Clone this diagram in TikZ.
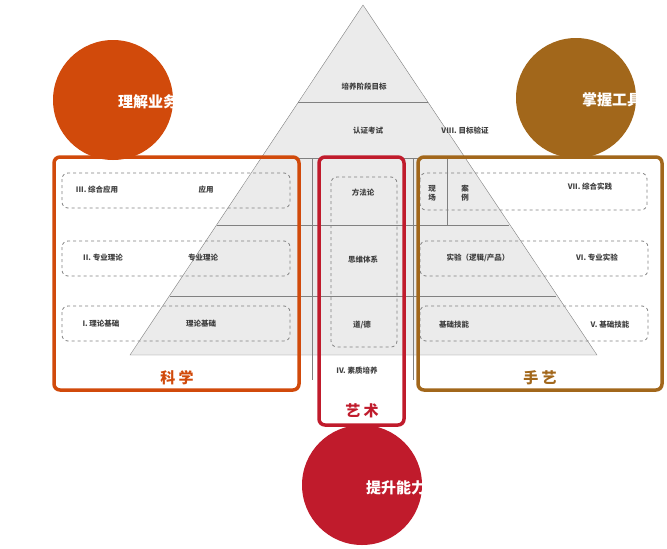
\documentclass[tikz,border=0pt]{standalone}
\usepackage{fontspec}
\setmainfont{Noto Sans CJK SC}
\definecolor{sciorange}{HTML}{D14A0B}
\definecolor{artred}{HTML}{C01B2C}
\definecolor{craftbrown}{HTML}{A2671B}
\tikzset{
    lbl/.style={font=\bfseries\fontsize{7.5}{9}\selectfont, text=black!75},
    dashbox/.style={draw=gray, dashed, rounded corners=6pt, thick},
    groupbox/.style={draw=#1, line width=3.5pt, rounded corners=6pt},
    ball/.style={circle, fill=#1, minimum size=120pt, inner sep=0pt},
    balltext/.style={font=\bfseries\fontsize{15}{17}\selectfont, text=white},
    grouptext/.style={font=\bfseries\fontsize{15}{17}\selectfont, text=#1},
}
\begin{document}
\begin{tikzpicture}[x=1pt, y=-1pt]
    \useasboundingbox (0, 0) rectangle (667, 549);
    \node[ball=sciorange] (sci) at (113, 100) {};
    \node[ball=craftbrown] (craft) at (576, 98) {};
    \node[ball=artred] (art) at (362, 485) {};

    \draw[gray, fill=black!8] (363, 5) -- (130, 355) -- (597, 355) -- cycle;
    \draw[gray] (298, 102) -- (428, 102);
    \draw[gray] (261, 158) -- (465, 158);
    \draw[gray] (217, 225) -- (509, 225);
    \draw[gray] (170, 296) -- (556, 296);
    \draw[gray] (312, 158) -- (312, 380);
    \draw[gray] (413, 158) -- (413, 380);
    \draw[gray] (447, 158) -- (447, 225);

    \draw[dashbox] (62, 173) rectangle (290, 208);
    \draw[dashbox] (62, 241) rectangle (290, 276);
    \draw[dashbox] (62, 306) rectangle (290, 341);
    \draw[dashbox] (420, 173) rectangle (647, 210);
    \draw[dashbox] (420, 241) rectangle (648, 276);
    \draw[dashbox] (420, 306) rectangle (648, 341);
    \draw[dashbox] (331, 177) rectangle (397, 347);

    \draw[groupbox=sciorange] (54, 157) rectangle (299, 390);
    \draw[groupbox=artred] (319, 157) rectangle (404, 425);
    \draw[groupbox=craftbrown] (418, 157) rectangle (662, 390);

    \node[balltext] (scit) at (148, 102) {理解业务};
    \node[balltext] (craftt) at (612, 100) {掌握工具};
    \node[balltext] (artt) at (396, 488) {提升能力};
    \node[grouptext=sciorange] (scig) at (177, 378) {科\ 学};
    \node[grouptext=artred] (artg) at (362, 411) {艺\ 术};
    \node[grouptext=craftbrown] (craftg) at (540, 378) {手\ 艺};

    \node[lbl] (goal) at (364, 87) {培养阶段目标};
    \node[lbl] (exam) at (368, 131) {认证考试};
    \node[lbl] (viii) at (465, 131) {VIII. 目标验证};
    \node[lbl] (iii) at (97, 190) {III. 综合应用};
    \node[lbl] (apply) at (206, 190) {应用};
    \node[lbl] (ii) at (103, 258) {II. 专业理论};
    \node[lbl] (theory) at (203, 258) {专业理论};
    \node[lbl] (i) at (101, 324) {I. 理论基础};
    \node[lbl] (basis) at (201, 324) {理论基础};
    \node[lbl] (method) at (363, 193) {方法论};
    \node[lbl] (thought) at (363, 260) {思维体系};
    \node[lbl] (moral) at (362, 325) {道/德};
    \node[lbl] (iv) at (357, 371) {IV. 素质培养};
    \node[lbl, align=center] (site) at (432, 193) {现\\场};
    \node[lbl, align=center] (case) at (465, 193) {案\\例};
    \node[lbl] (vii) at (590, 187) {VII. 综合实践};
    \node[lbl] (lab) at (478, 258) {实验（逻辑/产品）};
    \node[lbl] (vi) at (597, 258) {VI. 专业实验};
    \node[lbl] (skill) at (454, 325) {基础技能};
    \node[lbl] (v) at (610, 325) {V. 基础技能};
\end{tikzpicture}
\end{document}
